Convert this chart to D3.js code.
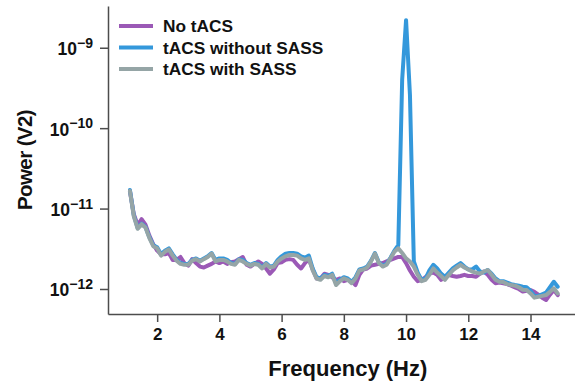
<!DOCTYPE html>
<html><head><meta charset="utf-8">
<script src="https://cdn.jsdelivr.net/npm/d3@7"></script>
<style>
html,body{margin:0;padding:0;background:#fff;}
svg{display:block;font-family:"Liberation Sans",Arial,Helvetica,sans-serif;}
</style></head>
<body>
<svg id="chart" width="575" height="384"></svg>
<script>
// Frequency grid (Hz), 0.125 Hz resolution
const freqStart = 1.125, freqStep = 0.125, freqCount = 111;
const seriesNames = ["No tACS", "tACS without SASS", "tACS with SASS"];
const seriesColors = ["#9b59b6", "#3498db", "#95a5a6"];
const unit = 1e-12; // values below are in units of 1e-12 V^2

const noTacs = [
  16.5, 8.5, 6.2, 7.4, 6.3, 4.6, 3.6, 3.0,
  2.7, 2.7, 2.8, 2.3, 2.3, 2.5, 2.1, 1.95,
  2.35, 2.1, 1.9, 1.85, 1.95, 2.05, 2.2, 2.1,
  2.2, 2.05, 2.15, 2.2, 2.35, 2.5, 2.0, 1.9,
  2.05, 2.2, 2.05, 1.8, 1.55, 1.75, 2.1, 2.15,
  2.3, 2.35, 2.3, 2.0, 1.8, 2.1, 2.35, 1.75,
  1.35, 1.35, 1.55, 1.5, 1.4, 1.3, 1.35, 1.25,
  1.3, 1.25, 1.12, 1.5, 1.75, 1.8, 1.95, 2.0,
  2.05, 2.1, 2.2, 2.3, 2.4, 2.5, 2.5, 2.1,
  1.7, 1.42, 1.25, 1.3, 1.4, 1.55, 1.6, 1.5,
  1.3, 1.4, 1.5, 1.45, 1.42, 1.45, 1.5, 1.45,
  1.45, 1.42, 1.55, 1.65, 1.5, 1.3, 1.18, 1.2,
  1.18, 1.15, 1.1, 1.05, 1.0, 0.93, 0.95, 0.97,
  0.92, 0.85, 0.78, 0.73, 0.85, 0.97, 0.84
];
const tacsNoSass = [
  17.0, 8.2, 5.7, 6.5, 5.9, 4.4, 3.5, 3.3,
  2.7, 3.0, 3.2, 2.7, 2.3, 2.1, 2.05, 2.05,
  2.3, 2.4, 2.25, 2.4, 2.55, 2.8, 2.3, 2.4,
  2.4, 2.3, 2.1, 2.05, 2.35, 2.3, 2.1, 2.0,
  2.1, 2.05, 1.85, 2.1, 1.9, 1.95, 2.3, 2.55,
  2.75, 2.8, 2.8, 2.75, 2.55, 2.45, 2.6, 1.8,
  1.4, 1.35, 1.5, 1.45, 1.55, 1.18, 1.3, 1.4,
  1.35, 1.22, 1.4, 1.75, 1.8, 1.9, 2.25, 2.8,
  2.15, 1.95, 2.05, 2.45, 3.0, 3.5, 400, 2200,
  260, 2.2, 1.6, 1.3, 1.35, 1.7, 2.0, 1.8,
  1.55, 1.42, 1.6, 1.8, 1.95, 2.1, 1.9, 1.75,
  1.75, 1.9, 1.65, 1.6, 1.72, 1.55, 1.35, 1.25,
  1.25, 1.2, 1.15, 1.12, 1.1, 1.07, 1.05, 0.95,
  0.82, 0.82, 0.86, 0.9, 1.05, 1.23, 1.07
];
const tacsSass = [
  16.5, 8.0, 5.6, 6.4, 5.8, 4.3, 3.4, 3.2,
  2.6, 2.9, 3.1, 2.6, 2.25, 2.05, 2.0, 2.0,
  2.25, 2.35, 2.2, 2.35, 2.5, 2.75, 2.2, 2.3,
  2.3, 2.2, 2.05, 2.0, 2.3, 2.2, 2.05, 1.95,
  2.05, 2.0, 1.8, 2.05, 1.85, 1.9, 2.2, 2.4,
  2.55, 2.65, 2.65, 2.6, 2.4, 2.3, 2.4, 1.7,
  1.35, 1.3, 1.45, 1.4, 1.5, 1.12, 1.25, 1.36,
  1.3, 1.18, 1.35, 1.7, 1.75, 1.85, 2.2, 2.75,
  2.1, 1.9, 2.0, 2.4, 2.9, 3.2, 2.8, 2.4,
  2.2, 1.9, 1.5, 1.25, 1.3, 1.5, 1.8, 1.6,
  1.45, 1.3, 1.5, 1.7, 1.85, 2.0, 1.85, 1.75,
  1.65, 1.6, 1.55, 1.65, 1.72, 1.5, 1.3, 1.23,
  1.22, 1.15, 1.12, 1.1, 1.05, 0.98, 0.97, 0.88,
  0.78, 0.8, 0.82, 0.84, 0.92, 1.02, 0.88
];
const xTicks = [2, 4, 6, 8, 10, 12, 14];
const yTickExponents = [-12, -11, -10, -9];
const xLabel = "Frequency (Hz)";
const yLabel = "Power (V2)";

const freqs = d3.range(freqCount).map(i => freqStart + i * freqStep);
const allSeries = [noTacs, tacsNoSass, tacsSass];

const svg = d3.select("#chart");
const mLeft = 108, mBottom = 314, mTop = 6, mRight = 575;

const x = d3.scaleLinear().domain([0.42, 15.43]).range([mLeft, mRight]);
const y = d3.scaleLog().domain([Math.pow(10, -12.311), Math.pow(10, -8.481)]).range([mBottom, mTop]);

const axisColor = "#4d4d4d";
const textColor = "#111";

// x axis
const gx = svg.append("g").attr("transform", `translate(0,${mBottom})`)
  .call(d3.axisBottom(x).tickValues(xTicks).tickFormat(d3.format("d")).tickSize(8).tickPadding(6).tickSizeOuter(0));
gx.select(".domain").attr("stroke", axisColor).attr("stroke-width", 1.5);
gx.selectAll(".tick line").attr("stroke", axisColor).attr("stroke-width", 1.5);
gx.selectAll(".tick text").attr("font-size", 17).attr("font-weight", "bold").attr("fill", textColor)
  .attr("font-family", "Liberation Sans, Arial, sans-serif");

// y axis
const gy = svg.append("g").attr("transform", `translate(${mLeft},0)`)
  .call(d3.axisLeft(y).tickValues(yTickExponents.map(e => Math.pow(10, e))).tickFormat(() => "").tickSize(8).tickSizeOuter(0));
gy.select(".domain").attr("stroke", axisColor).attr("stroke-width", 1.5);
gy.selectAll(".tick line").attr("stroke", axisColor).attr("stroke-width", 1.5);
gy.selectAll(".tick text").remove();
gy.selectAll(".tick").each(function(d) {
  const e = Math.round(Math.log10(d));
  const t = d3.select(this).append("text")
    .attr("x", -15).attr("y", 7)
    .attr("text-anchor", "end")
    .attr("fill", textColor)
    .attr("font-weight", "bold")
    .attr("font-family", "Liberation Sans, Arial, sans-serif");
  t.append("tspan").attr("font-size", 17.5).text("10");
  t.append("tspan").attr("font-size", 14).attr("dy", -7.5).text("\u2212" + Math.abs(e));
});

// axis labels
svg.append("text").attr("x", (x(2) + x(14)) / 2 + 4).attr("y", 376)
  .attr("text-anchor", "middle").attr("font-size", 22).attr("font-weight", "bold").attr("fill", textColor)
  .text(xLabel);
svg.append("text").attr("transform", `translate(32,160) rotate(-90)`)
  .attr("text-anchor", "middle").attr("font-size", 20.5).attr("font-weight", "bold").attr("fill", textColor)
  .attr("letter-spacing", -0.6)
  .text(yLabel);

// lines
const line = d3.line().x((d, i) => x(freqs[i])).y(d => y(d * unit));
allSeries.forEach((s, k) => {
  svg.append("path").datum(s)
    .attr("fill", "none").attr("stroke", seriesColors[k]).attr("stroke-width", 4)
    .attr("stroke-linejoin", "round").attr("stroke-linecap", "round")
    .attr("d", line);
});

// legend
const lg = svg.append("g");
seriesNames.forEach((n, k) => {
  const cy = 26 + k * 21.5;
  lg.append("line").attr("x1", 119).attr("x2", 153).attr("y1", cy).attr("y2", cy)
    .attr("stroke", seriesColors[k]).attr("stroke-width", 4);
  lg.append("text").attr("x", 163).attr("y", cy + 6).attr("font-size", 17.3).attr("font-weight", "bold")
    .attr("fill", textColor).text(n);
});
</script>
</body></html>
